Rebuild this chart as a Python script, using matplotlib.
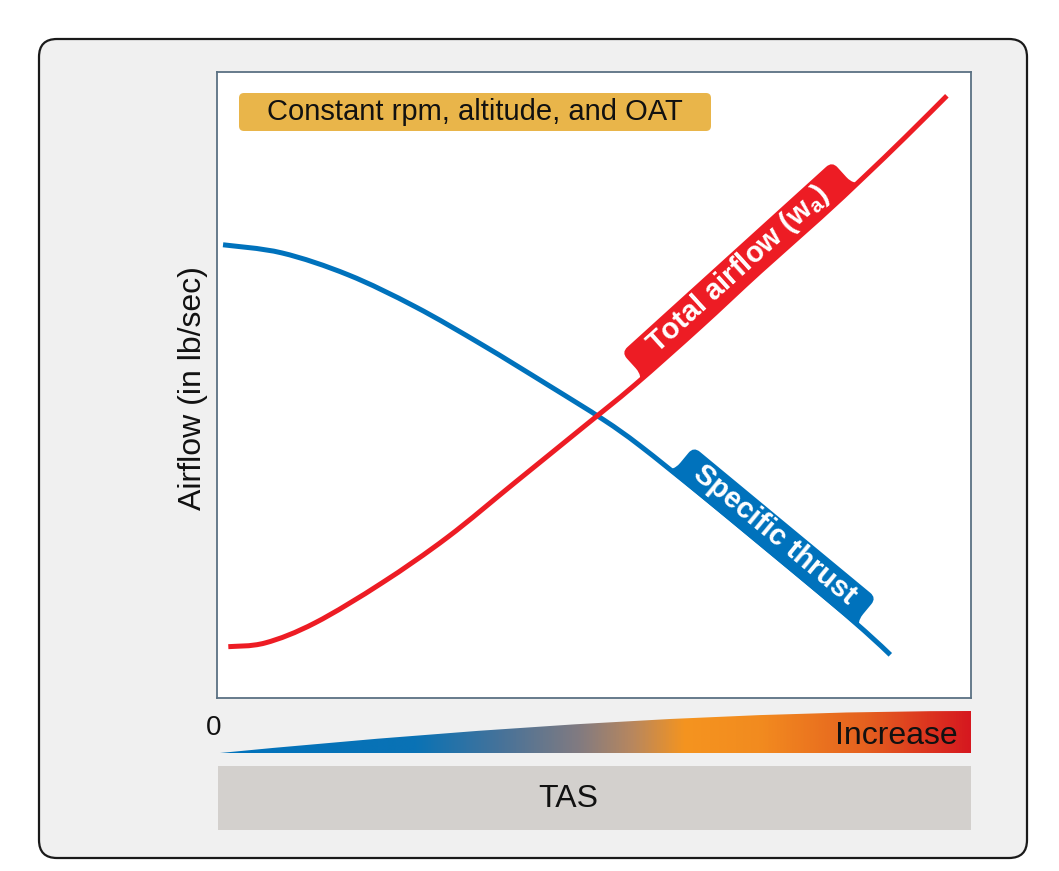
import numpy as np
import matplotlib
matplotlib.use("Agg")
import matplotlib.pyplot as plt
from matplotlib.patches import FancyBboxPatch, PathPatch, Rectangle
from matplotlib.path import Path
from matplotlib.transforms import Affine2D, IdentityTransform
from matplotlib.colors import LinearSegmentedColormap

# ---------------- data ----------------
tas_thrust = [0.8, 8.6, 17.4, 26.3, 35.2, 43.9, 51.2, 56.1, 64.1, 72.0, 80.0, 85.9, 89.3]
specific_thrust = [72.4, 71.1, 67.6, 62.5, 56.4, 50.0, 44.5, 40.3, 32.6, 24.8, 16.8, 10.7, 6.9]

tas_airflow = [1.5, 6.4, 13.0, 21.9, 30.6, 39.5, 48.4, 55.4, 64.1, 72.0, 80.0, 85.7, 91.3, 96.8]
total_airflow = [8.2, 8.8, 12.0, 18.4, 25.7, 34.4, 43.1, 50.0, 59.3, 68.1, 76.7, 83.1, 89.6, 96.2]

title_text = "Constant rpm, altitude, and OAT"
y_label = "Airflow (in lb/sec)"
x_label = "TAS"
x_start_label = "0"
x_end_label = "Increase"
airflow_label = r"Total airflow (w$_\mathbf{a}$)"
thrust_label = "Specific thrust"

# ---------------- style ----------------
plt.rcParams["font.family"] = ["Liberation Sans", "DejaVu Sans"]
plt.rcParams["mathtext.fontset"] = "custom"
plt.rcParams["mathtext.rm"] = "Liberation Sans"
plt.rcParams["mathtext.bf"] = "Liberation Sans:bold"

BLUE = "#0072BC"
RED = "#ED1C24"
GOLD = "#E9B54A"
W, H = 1059, 871

fig = plt.figure(figsize=(W / 100, H / 100), dpi=100)
fig.patch.set_facecolor("white")

# background overlay (pixel coordinates)
bg = fig.add_axes([0, 0, 1, 1], zorder=0)
bg.set_xlim(0, W)
bg.set_ylim(H, 0)
bg.axis("off")
bg.add_patch(FancyBboxPatch((39, 39), 988, 819,
                            boxstyle="round,pad=0,rounding_size=18",
                            facecolor="#F0F0F0", edgecolor="#1A1A1A", lw=1.6))

# gradient wedge for TAS
cmap = LinearSegmentedColormap.from_list("tas", [
    (0.0, "#0072BC"), (0.26, "#0A72B5"), (0.38, "#4A7398"), (0.48, "#837B80"),
    (0.55, "#B8875E"), (0.62, "#F5941F"), (0.72, "#F28B1F"), (0.86, "#E5611F"),
    (1.0, "#D6181F")])
grad = np.linspace(0, 1, 512).reshape(1, -1)
im = bg.imshow(grad, cmap=cmap, extent=(220, 971, 753, 711), aspect="auto",
               interpolation="bilinear", zorder=1)
wedge = Path([(220, 753), (650, 711), (971, 711), (971, 753), (220, 753)],
             [Path.MOVETO, Path.CURVE3, Path.CURVE3, Path.LINETO, Path.CLOSEPOLY])
wp = PathPatch(wedge, transform=bg.transData, facecolor="none", edgecolor="none")
bg.add_patch(wp)
im.set_clip_path(wp)

bg.text(214, 728, x_start_label, fontsize=20, ha="center", va="center", color="#111111")
bg.text(958, 736, x_end_label, fontsize=23, ha="right", va="center", color="#111111", zorder=3)

bg.add_patch(Rectangle((218, 766), 753, 64, facecolor="#D3D0CD", edgecolor="none"))
bg.text(568, 799, x_label, fontsize=23, ha="center", va="center", color="#111111")

bg.text(193, 388, y_label, fontsize=23, rotation=90, ha="center", va="center", color="#111111")

# main chart axes
ax = fig.add_axes([217 / W, (H - 698) / H, 754 / W, 626 / H], zorder=1)
ax.set_xlim(0, 100)
ax.set_ylim(0, 100)
ax.set_xticks([])
ax.set_yticks([])
ax.set_facecolor("white")
for s in ax.spines.values():
    s.set_color("#5B7183")
    s.set_linewidth(1.3)


def smooth_path(xs, ys):
    """Smooth curve through the read points (Catmull-Rom as cubic Beziers)."""
    p = np.column_stack([xs, ys]).astype(float)
    ext = np.vstack([p[0], p, p[-1]])
    verts = [tuple(p[0])]
    codes = [Path.MOVETO]
    for i in range(1, len(ext) - 2):
        p0, p1, p2, p3 = ext[i - 1], ext[i], ext[i + 1], ext[i + 2]
        c1 = p1 + (p2 - p0) / 6.0
        c2 = p2 - (p3 - p1) / 6.0
        verts += [tuple(c1), tuple(c2), tuple(p2)]
        codes += [Path.CURVE4] * 3
    return Path(verts, codes)


ax.add_patch(PathPatch(smooth_path(tas_thrust, specific_thrust), facecolor="none",
                       edgecolor=BLUE, lw=3.6, capstyle="butt", zorder=2))
ax.add_patch(PathPatch(smooth_path(tas_airflow, total_airflow), facecolor="none",
                       edgecolor=RED, lw=3.6, capstyle="butt", zorder=3))


def ribbon(xs, ys, t0, t1, text, color, height=33, foot=12, r=8, fs=21):
    p0 = ax.transData.transform((t0, np.interp(t0, xs, ys)))
    p1 = ax.transData.transform((t1, np.interp(t1, xs, ys)))
    d = p1 - p0
    ang = np.degrees(np.arctan2(d[1], d[0]))
    L = float(np.hypot(*d))
    f = foot
    v0 = -1.5
    verts = [(0, v0), (f, v0), (f, f), (f, height - r), (f, height), (f + r, height),
             (L - f - r, height), (L - f, height), (L - f, height - r), (L - f, f),
             (L - f, v0), (L, v0), (0, v0)]
    codes = [Path.MOVETO, Path.CURVE3, Path.CURVE3, Path.LINETO, Path.CURVE3, Path.CURVE3,
             Path.LINETO, Path.CURVE3, Path.CURVE3, Path.LINETO, Path.CURVE3, Path.CURVE3,
             Path.CLOSEPOLY]
    tr = Affine2D().rotate_deg(ang).translate(p0[0], p0[1])
    ax.add_patch(PathPatch(Path(verts, codes), transform=tr, facecolor=color,
                           edgecolor="none", clip_on=False, zorder=5))
    c = tr.transform((L / 2, height / 2))
    ax.text(c[0], c[1], text, transform=IdentityTransform(), rotation=ang,
            rotation_mode="anchor", ha="center", va="center", color="white",
            fontweight="bold", fontsize=fs, zorder=6)


ribbon(tas_airflow, total_airflow, 55.4, 85.7, airflow_label, RED)
ribbon(tas_thrust, specific_thrust, 59.2, 85.9, thrust_label, BLUE)

# top overlay for title box
top = fig.add_axes([0, 0, 1, 1], zorder=2)
top.set_xlim(0, W)
top.set_ylim(H, 0)
top.axis("off")
top.patch.set_alpha(0)
top.add_patch(FancyBboxPatch((239, 93), 472, 38, boxstyle="round,pad=0,rounding_size=5",
                             facecolor=GOLD, edgecolor="none"))
top.text(475, 112.5, title_text, fontsize=21, ha="center", va="center", color="#111111")

fig.savefig("out.png", dpi=100)
